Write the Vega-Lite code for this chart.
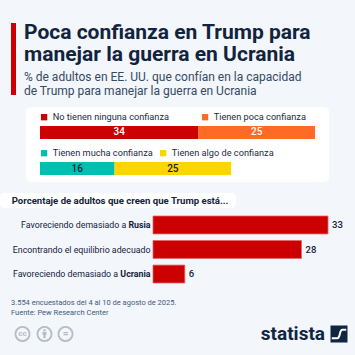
{
  "$schema": "https://vega.github.io/schema/vega-lite/v6.json",
  "background": "#f3f6fa",
  "padding": {"left": 0, "top": 22, "right": 10, "bottom": 10},
  "config": {
    "view": {"stroke": null},
    "font": "Roboto",
    "axis": {"labelFont": "Roboto"},
    "legend": {"labelFont": "Roboto"},
    "title": {"font": "Roboto", "subtitleFont": "Roboto"}
  },
  "columns": 1,
  "align": "none",
  "spacing": 6,
  "concat": [
    {
      "columns": 1,
      "align": "none",
      "spacing": 11,
      "concat": [
        {
          "columns": 1,
          "align": "none",
          "spacing": 10,
          "concat": [
            {
              "spacing": 0,
              "hconcat": [
                {"width": 11, "height": 1, "data": {"values": [{}]}, "mark": {"type": "point", "size": 0, "opacity": 0}, "encoding": {}},
                {"width": 5, "height": 72, "view": {"fill": "#cc0000", "stroke": null}, "data": {"values": [{}]}, "mark": {"type": "point", "size": 0, "opacity": 0}, "encoding": {}},
                {"width": 8, "height": 1, "data": {"values": [{}]}, "mark": {"type": "point", "size": 0, "opacity": 0}, "encoding": {}},
                {
                  "width": 310,
                  "height": 1,
                  "title": {
                    "text": ["Poca confianza en Trump para", "manejar la guerra en Ucrania"],
                    "subtitle": ["% de adultos en EE. UU. que confían en la capacidad", "de Trump para manejar la guerra en Ucrania"],
                    "orient": "bottom",
                    "anchor": "start",
                    "fontSize": 21,
                    "fontWeight": "bold",
                    "color": "#12243d",
                    "lineHeight": 22,
                    "subtitleFontSize": 12,
                    "subtitleColor": "#354a63",
                    "subtitleLineHeight": 14,
                    "subtitlePadding": 7,
                    "offset": -2
                  },
                  "data": {"values": [{}]},
                  "mark": {"type": "point", "size": 0, "opacity": 0},
                  "encoding": {}
                }
              ]
            },
            {
              "spacing": 0,
              "hconcat": [
                {"width": 26, "height": 1, "data": {"values": [{}]}, "mark": {"type": "point", "size": 0, "opacity": 0}, "encoding": {}},
                {
                  "width": 303,
                  "height": 75,
                  "view": {"fill": "#ffffff", "cornerRadius": 5, "stroke": null},
                  "data": {"values": [
                    {"grupo": "Sin confianza", "categoria": "No tienen ninguna confianza", "orden": 1, "valor": 34},
                    {"grupo": "Sin confianza", "categoria": "Tienen poca confianza", "orden": 2, "valor": 25},
                    {"grupo": "Con confianza", "categoria": "Tienen mucha confianza", "orden": 1, "valor": 16},
                    {"grupo": "Con confianza", "categoria": "Tienen algo de confianza", "orden": 2, "valor": 25}
                  ]},
                  "transform": [
                    {"stack": "valor", "groupby": ["grupo"], "sort": [{"field": "orden", "order": "ascending"}], "as": ["inicio", "fin"]},
                    {"calculate": "(datum.inicio + datum.fin) / 2", "as": "centro"}
                  ],
                  "encoding": {
                    "y": {"field": "grupo", "type": "nominal", "sort": ["Sin confianza", "Con confianza"], "scale": {"type": "band", "paddingInner": 0.64, "paddingOuter": 0.36, "align": 0.73}, "axis": null}
                  },
                  "layer": [
                    {
                      "transform": [{"filter": "datum.grupo === 'Sin confianza'"}],
                      "mark": {"type": "bar"},
                      "encoding": {
                        "x": {"field": "inicio", "type": "quantitative", "scale": {"domain": [-3, 62], "nice": false, "zero": false}, "axis": null},
                        "x2": {"field": "fin"},
                        "color": {"field": "categoria", "type": "nominal",
                          "scale": {"domain": ["No tienen ninguna confianza", "Tienen poca confianza"], "range": ["#cc0000", "#ff6a26"]},
                          "legend": {"orient": "none", "legendX": 39.5, "legendY": 89.5, "padding": 0, "direction": "horizontal", "columns": 2, "title": null, "symbolType": "square", "symbolSize": 40, "symbolStrokeWidth": 0, "labelFontSize": 9.2, "labelColor": "#1b2b42", "labelOffset": 4, "columnPadding": 31}}
                      }
                    },
                    {
                      "transform": [{"filter": "datum.grupo === 'Con confianza'"}],
                      "mark": {"type": "bar"},
                      "encoding": {
                        "x": {"field": "inicio", "type": "quantitative", "scale": {"domain": [-3, 62], "nice": false, "zero": false}, "axis": null},
                        "x2": {"field": "fin"},
                        "fill": {"field": "categoria", "type": "nominal",
                          "scale": {"domain": ["Tienen mucha confianza", "Tienen algo de confianza"], "range": ["#00bfb0", "#ffd500"]},
                          "legend": {"orient": "none", "legendX": 39.5, "legendY": 125.5, "padding": 0, "direction": "horizontal", "columns": 2, "title": null, "symbolType": "square", "symbolSize": 40, "symbolStrokeWidth": 0, "labelFontSize": 9.2, "labelColor": "#1b2b42", "labelOffset": 4, "columnPadding": 5}}
                      }
                    },
                    {
                      "transform": [{"filter": "datum.grupo === 'Sin confianza'"}],
                      "mark": {"type": "text", "fontSize": 10, "fontWeight": 500, "color": "#ffffff"},
                      "encoding": {
                        "x": {"field": "centro", "type": "quantitative", "scale": {"domain": [-3, 62], "nice": false, "zero": false}, "axis": null},
                        "text": {"field": "valor", "type": "quantitative"}
                      }
                    },
                    {
                      "transform": [{"filter": "datum.grupo === 'Con confianza'"}],
                      "mark": {"type": "text", "fontSize": 10, "fontWeight": 500, "color": "#13233a"},
                      "encoding": {
                        "x": {"field": "centro", "type": "quantitative", "scale": {"domain": [-3, 62], "nice": false, "zero": false}, "axis": null},
                        "text": {"field": "valor", "type": "quantitative"}
                      }
                    }
                  ]
                }
              ]
            }
          ]
        },
        {
          "columns": 1,
          "align": "none",
          "spacing": 7,
          "concat": [
            {
              "width": 236,
              "height": 15,
              "view": {"fill": "#ffffff", "cornerRadius": 4, "stroke": null},
              "data": {"values": [{"texto": "Porcentaje de adultos que creen que Trump está..."}]},
              "mark": {"type": "text", "fontSize": 9.6, "fontWeight": "bold", "color": "#13233a", "dx": 2},
              "encoding": {"text": {"field": "texto", "type": "nominal"}}
            },
            {
              "spacing": 0,
              "hconcat": [
                {"width": 11, "height": 1, "data": {"values": [{}]}, "mark": {"type": "point", "size": 0, "opacity": 0}, "encoding": {}},
                {
                  "width": 175,
                  "height": 67,
                  "data": {"values": [
                    {"postura": "Favoreciendo demasiado a Rusia", "prefijo": "Favoreciendo demasiado a", "destacado": "Rusia", "porcentaje": 33},
                    {"postura": "Encontrando el equilibrio adecuado", "prefijo": "Encontrando el equilibrio adecuado", "destacado": "", "porcentaje": 28},
                    {"postura": "Favoreciendo demasiado a Ucrania", "prefijo": "Favoreciendo demasiado a", "destacado": "Ucrania", "porcentaje": 6}
                  ]},
                  "title": {
                    "text": ["3.554 encuestados del 4 al 10 de agosto de 2025.", "Fuente: Pew Research Center"],
                    "orient": "bottom",
                    "anchor": "start",
                    "frame": "bounds",
                    "offset": 16,
                    "fontSize": 7.5,
                    "fontWeight": "normal",
                    "color": "#44597a",
                    "lineHeight": 10
                  },
                  "encoding": {
                    "y": {"field": "postura", "type": "nominal", "sort": null, "scale": {"paddingInner": 0.27, "paddingOuter": 0},
                      "axis": {"labels": false, "domain": false, "ticks": false, "grid": false, "title": null, "minExtent": 142}}
                  },
                  "layer": [
                    {"mark": {"type": "bar", "color": "#cc0000", "stroke": "#e4666b", "strokeWidth": 0.8},
                     "encoding": {"x": {"field": "porcentaje", "type": "quantitative", "scale": {"domain": [0, 33], "nice": false}, "axis": null}}},
                    {"mark": {"type": "text", "align": "left", "dx": 4, "fontSize": 9.5, "fontWeight": 500, "color": "#13233a"},
                     "encoding": {"x": {"field": "porcentaje", "type": "quantitative"}, "text": {"field": "porcentaje", "type": "quantitative"}}},
                    {"mark": {"type": "text", "align": "right", "dx": -2.5, "fontSize": 8.8, "fontWeight": "bold", "color": "#13233a"},
                     "encoding": {"x": {"datum": 0, "type": "quantitative"}, "text": {"field": "destacado", "type": "nominal"}}},
                    {"transform": [{"filter": "datum.destacado === ''"}],
                     "mark": {"type": "text", "align": "right", "dx": -2.5, "fontSize": 8.8, "color": "#13233a"},
                     "encoding": {"x": {"datum": 0, "type": "quantitative"}, "text": {"field": "prefijo", "type": "nominal"}}},
                    {"transform": [{"filter": "datum.destacado === 'Rusia'"}],
                     "mark": {"type": "text", "align": "right", "dx": -26.7, "fontSize": 8.8, "color": "#13233a"},
                     "encoding": {"x": {"datum": 0, "type": "quantitative"}, "text": {"field": "prefijo", "type": "nominal"}}},
                    {"transform": [{"filter": "datum.destacado === 'Ucrania'"}],
                     "mark": {"type": "text", "align": "right", "dx": -34.9, "fontSize": 8.8, "color": "#13233a"},
                     "encoding": {"x": {"datum": 0, "type": "quantitative"}, "text": {"field": "prefijo", "type": "nominal"}}}
                  ]
                }
              ]
            }
          ]
        }
      ]
    },
    {
      "spacing": 0,
      "hconcat": [
        {"width": 11, "height": 1, "data": {"values": [{}]}, "mark": {"type": "point", "size": 0, "opacity": 0}, "encoding": {}},
        {
          "width": 334,
          "height": 18,
          "data": {"values": [{"licencia": "cc", "igual": "=", "marca": "statista"}]},
          "layer": [
            {"mark": {"type": "point", "shape": "circle", "size": 200, "filled": false, "color": "#b3bcc7", "strokeWidth": 1.8, "opacity": 1, "xOffset": -159.5}, "encoding": {}},
            {"mark": {"type": "point", "shape": "circle", "size": 200, "filled": false, "color": "#b3bcc7", "strokeWidth": 1.8, "opacity": 1, "xOffset": -137.5}, "encoding": {}},
            {"mark": {"type": "point", "shape": "circle", "size": 200, "filled": false, "color": "#b3bcc7", "strokeWidth": 1.8, "opacity": 1, "xOffset": -116.5}, "encoding": {}},
            {"mark": {"type": "text", "fontSize": 8, "fontWeight": "bold", "color": "#b3bcc7", "baseline": "middle", "dx": -159.5},
             "encoding": {"text": {"field": "licencia", "type": "nominal"}}},
            {"mark": {"type": "point", "shape": "M-0.18,-0.95 L0.18,-0.95 L0.26,-0.78 L0.18,-0.6 L-0.18,-0.6 L-0.26,-0.78 Z M-0.4,-0.45 L0.4,-0.45 L0.4,0.2 L0.22,0.2 L0.22,0.85 L-0.22,0.85 L-0.22,0.2 L-0.4,0.2 Z", "size": 100, "filled": true, "color": "#b3bcc7", "opacity": 1, "xOffset": -137.5}, "encoding": {}},
            {"mark": {"type": "text", "fontSize": 10, "fontWeight": "bold", "color": "#b3bcc7", "baseline": "middle", "dx": -116.5},
             "encoding": {"text": {"field": "igual", "type": "nominal"}}},
            {"mark": {"type": "text", "align": "right", "baseline": "middle", "dx": 143, "fontSize": 19, "fontWeight": "bold", "color": "#0f2643"},
             "encoding": {"text": {"field": "marca", "type": "nominal"}}},
            {"mark": {"type": "point", "shape": "square", "size": 289, "filled": true, "color": "#0f2643", "opacity": 1, "xOffset": 157}, "encoding": {}},
            {"mark": {"type": "point", "shape": "M-0.85,0.5 L-0.2,0.5 C0.2,0.5 0,-0.5 0.4,-0.5 L0.85,-0.5", "size": 289, "filled": false, "color": "#ffffff", "strokeWidth": 2, "opacity": 1, "xOffset": 157}, "encoding": {}}
          ]
        }
      ]
    }
  ]
}
